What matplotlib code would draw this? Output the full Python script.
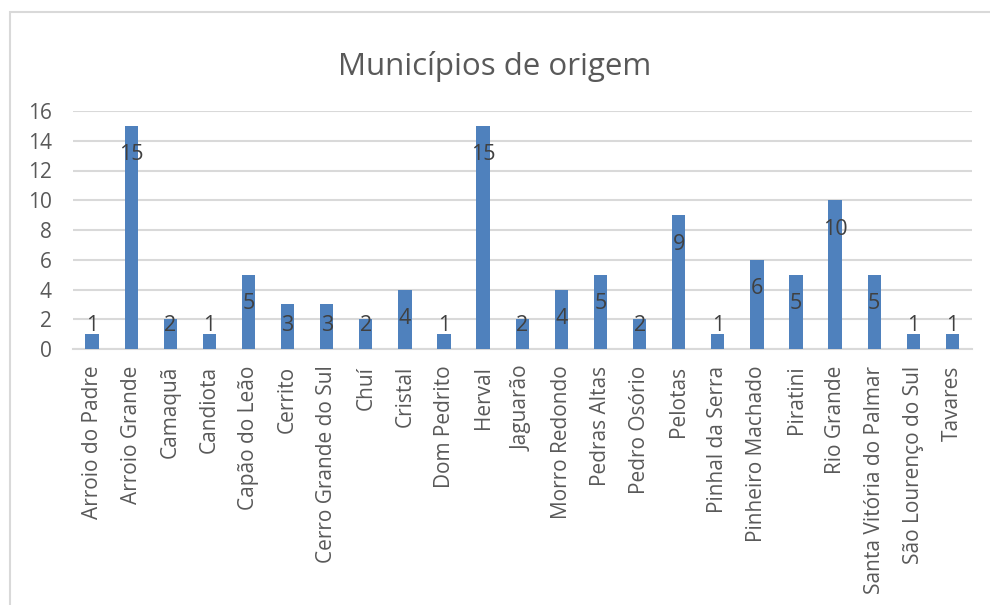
import matplotlib.pyplot as plt
from matplotlib.patches import Rectangle

# Municípios de origem - counts per município
municipios = ['Arroio do Padre', 'Arroio Grande', 'Camaquã', 'Candiota',
              'Capão do Leão', 'Cerrito', 'Cerro Grande do Sul', 'Chuí',
              'Cristal', 'Dom Pedrito', 'Herval', 'Jaguarão', 'Morro Redondo',
              'Pedras Altas', 'Pedro Osório', 'Pelotas', 'Pinhal da Serra',
              'Pinheiro Machado', 'Piratini', 'Rio Grande',
              'Santa Vitória do Palmar', 'São Lourenço do Sul', 'Tavares']
contagem = [1, 15, 2, 1, 5, 3, 3, 2, 4, 1, 15, 2, 4, 5, 2, 9, 1, 6, 5, 10, 5, 1, 1]
y_ticks = [0, 2, 4, 6, 8, 10, 12, 14, 16]


def main():
    plt.rcParams['font.family'] = ['Open Sans', 'DejaVu Sans']
    W, H = 990, 605
    fig = plt.figure(figsize=(W/100, H/100), dpi=100)

    # chart frame (only left/top edges visible in the original crop)
    fig.patches.append(Rectangle((9.5/W, -0.1), 1.2, (H - 12)/H + 0.1,
                                 transform=fig.transFigure, fill=False,
                                 edgecolor='#D9D9D9', linewidth=1.5))

    ax = fig.add_axes([72.5/W, (H - 349)/H, (972 - 72.5)/W, 238/H])
    x = range(len(municipios))
    ax.bar(x, contagem, width=0.34, color='#4F81BD', zorder=3)

    for xi, v in zip(x, contagem):
        ax.text(xi, max(v - 1.95, 1.6), str(v), ha='center', va='center',
                fontsize=15.5, color='#404040', zorder=4)

    ax.set_xlim(-0.5, len(municipios) - 0.5)
    ax.set_ylim(0, 16)
    ax.set_yticks(y_ticks)
    ax.set_xticks(list(x))
    ax.set_xticklabels(municipios, rotation=90)
    ax.tick_params(axis='both', length=0, labelsize=15, labelcolor='#595959')
    ax.tick_params(axis='y', pad=15)
    ax.tick_params(axis='x', pad=12)
    ax.grid(axis='y', color='#D9D9D9', linewidth=1.5, zorder=0)
    for s in ['top', 'right', 'left']:
        ax.spines[s].set_visible(False)
    ax.spines['bottom'].set_color('#D9D9D9')
    ax.spines['bottom'].set_linewidth(1.5)

    fig.text(0.5, (H - 66)/H, 'Municípios de origem', ha='center',
             va='center', fontsize=22.5, color='#595959')

    fig.savefig('out.png', dpi=100)


if __name__ == '__main__':
    main()
